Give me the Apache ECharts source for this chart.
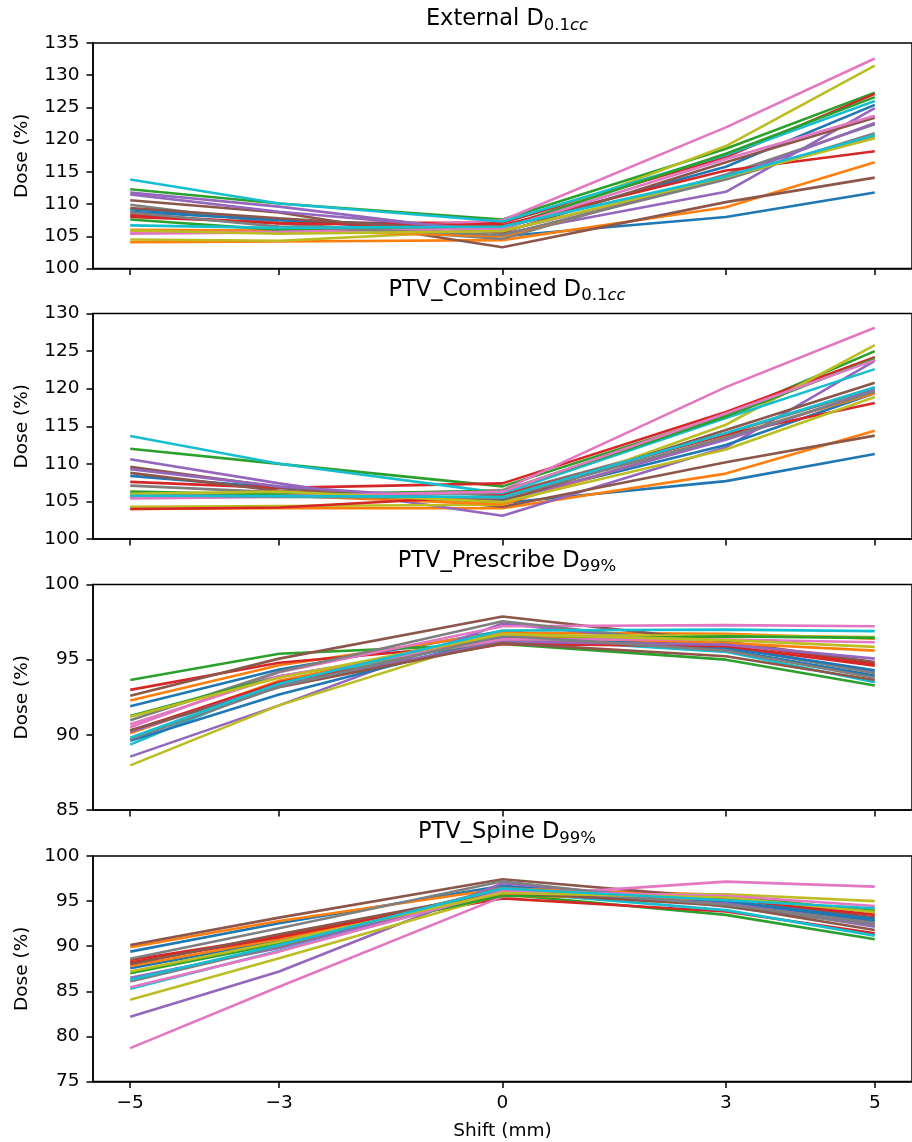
<!DOCTYPE html>
<html>
<head>
<meta charset="utf-8">
<script src="https://cdn.jsdelivr.net/npm/echarts@6/dist/echarts.min.js"></script>
<style>
  html, body { margin: 0; padding: 0; background: #fff; }
  #chart { width: 912px; height: 1142px; }
</style>
</head>
<body>
<div id="chart"></div>
<script>
// x positions (shift in mm) and tick labels
const shifts = [-5, -3, 0, 3, 5];
const xTicks = [-5, -3, 0, 3, 5];

// matplotlib tab10 cycle
const palette = ['#1f77b4', '#ff7f0e', '#2ca02c', '#d62728', '#9467bd',
                 '#8c564b', '#e377c2', '#7f7f7f', '#bcbd22', '#17becf'];

// one row per patient, values at shifts -5,-3,0,3,5
const externalD01cc = [
  [109.2, 107.6, 105.0, 108.0, 111.8],
  [104.1, 104.2, 104.4, 109.5, 116.5],
  [112.3, 110.1, 107.6, 118.6, 127.3],
  [108.0, 107.1, 107.1, 117.3, 127.1],
  [111.8, 109.6, 105.4, 111.9, 124.9],
  [110.6, 108.7, 103.3, 110.3, 114.1],
  [105.4, 105.6, 107.5, 121.9, 132.6],
  [109.9, 107.0, 104.6, 114.6, 122.4],
  [104.5, 104.3, 106.0, 119.0, 131.5],
  [113.8, 110.1, 107.3, 117.6, 126.0],
  [108.8, 107.5, 106.3, 115.8, 125.4],
  [106.0, 105.9, 105.0, 114.2, 120.4],
  [107.6, 106.0, 106.4, 117.8, 126.6],
  [108.3, 107.0, 106.7, 115.2, 118.2],
  [111.5, 108.8, 105.8, 114.0, 122.6],
  [109.4, 107.8, 105.6, 116.5, 123.4],
  [105.6, 105.7, 106.2, 117.0, 123.7],
  [108.7, 106.5, 105.2, 113.8, 121.0],
  [105.9, 105.4, 105.8, 114.2, 120.2],
  [106.7, 106.3, 106.5, 114.3, 120.7]
];

const ptvCombinedD01cc = [
  [108.4, 106.8, 104.8, 107.7, 111.3],
  [104.0, 104.1, 104.1, 108.7, 114.4],
  [112.0, 110.0, 107.0, 116.5, 125.0],
  [107.6, 106.8, 107.4, 116.9, 124.2],
  [110.6, 107.4, 103.1, 112.2, 123.7],
  [109.6, 106.9, 104.3, 110.2, 113.75],
  [105.4, 105.6, 106.5, 120.2, 128.1],
  [107.1, 106.2, 106.0, 114.0, 120.0],
  [104.3, 104.4, 104.55, 115.2, 125.8],
  [113.7, 110.0, 106.1, 116.1, 122.6],
  [106.0, 105.7, 105.2, 112.5, 119.4],
  [106.05, 105.8, 104.6, 113.6, 119.4],
  [106.3, 105.9, 106.4, 116.3, 124.0],
  [104.0, 104.2, 105.8, 113.9, 118.1],
  [109.3, 107.0, 105.0, 113.2, 119.8],
  [108.8, 106.4, 105.0, 114.5, 120.8],
  [105.5, 105.7, 106.3, 116.7, 123.8],
  [105.9, 105.6, 105.5, 113.5, 119.6],
  [106.0, 106.3, 104.9, 111.9, 118.9],
  [105.75, 105.7, 105.6, 114.1, 120.2]
];

const ptvPrescribeD99 = [
  [91.9, 94.34, 96.9, 95.68, 93.94],
  [92.28, 94.63, 96.8, 96.72, 96.4],
  [93.65, 95.39, 96.05, 95.0, 93.28],
  [92.99, 94.79, 96.1, 96.1, 94.72],
  [88.55, 91.96, 97.4, 95.9, 94.16],
  [92.6, 95.07, 97.87, 96.2, 94.85],
  [90.5, 94.16, 97.22, 97.3, 97.22],
  [90.97, 94.2, 97.56, 95.9, 94.1],
  [87.97, 91.96, 96.6, 96.6, 96.5],
  [89.35, 93.45, 96.45, 95.52, 93.5],
  [89.6, 92.68, 96.5, 95.8, 94.3],
  [90.1, 93.6, 96.6, 96.1, 95.6],
  [91.26, 93.9, 96.3, 96.55, 96.45],
  [90.28, 93.5, 96.05, 95.9, 94.6],
  [90.2, 93.3, 96.2, 96.0, 95.07],
  [90.3, 93.16, 96.1, 95.23, 93.65],
  [90.7, 93.9, 96.35, 96.34, 96.16],
  [89.7, 93.2, 96.6, 95.6, 93.8],
  [91.2, 93.8, 96.7, 96.3, 95.85],
  [89.8, 93.4, 96.94, 97.0, 96.9]
];

const ptvSpineD99 = [
  [89.4, 92.55, 96.7, 94.94, 92.8],
  [89.9, 92.8, 96.4, 95.7, 93.73],
  [88.1, 91.2, 95.76, 93.47, 90.78],
  [88.48, 91.06, 95.3, 93.85, 91.44],
  [82.17, 87.2, 96.98, 94.8, 92.17],
  [90.14, 93.17, 97.42, 95.3, 93.17],
  [78.7, 85.5, 95.5, 97.16, 96.6],
  [88.6, 92.0, 97.2, 94.39, 92.36],
  [84.05, 88.67, 95.76, 95.76, 95.0],
  [85.27, 89.5, 96.05, 94.0, 91.17],
  [87.56, 90.6, 96.3, 95.0, 93.0],
  [87.8, 90.8, 95.6, 95.2, 94.0],
  [87.0, 90.3, 95.6, 95.5, 93.9],
  [88.2, 91.0, 95.9, 95.3, 93.47],
  [86.5, 89.8, 96.2, 94.7, 92.5],
  [88.0, 91.33, 96.0, 94.5, 91.8],
  [85.45, 89.4, 96.1, 95.6, 94.46],
  [86.08, 90.0, 96.5, 94.6, 92.6],
  [87.2, 90.5, 95.9, 95.4, 93.8],
  [86.27, 90.14, 96.4, 95.1, 94.2]
];

const panels = [
  { name: 'External D', sub: '0.1', subIt: 'cc', rows: externalD01cc, min: 100, max: 135 },
  { name: 'PTV_Combined D', sub: '0.1', subIt: 'cc', rows: ptvCombinedD01cc, min: 100, max: 130 },
  { name: 'PTV_Prescribe D', sub: '99%', subIt: '', rows: ptvPrescribeD99, min: 85, max: 100 },
  { name: 'PTV_Spine D', sub: '99%', subIt: '', rows: ptvSpineD99, min: 75, max: 100 }
];

const FONT = 'DejaVu Sans';
const gridTops = [43, 313.5, 584.5, 856];
const gridH = 225.5;
const black = '#000';
const LBL = 18.5;

const chart = echarts.init(document.getElementById('chart'), null, { renderer: 'canvas' });

// subscript: main text top-aligned, sub text bottom-aligned in a taller line
const titleRich = {
  m: { fontSize: 22.5, fontFamily: FONT, fontWeight: 'normal', color: black, lineHeight: 22.5, verticalAlign: 'top' },
  s: { fontSize: 16.5, fontFamily: FONT, fontWeight: 'normal', color: black, lineHeight: 26, verticalAlign: 'bottom' },
  i: { fontSize: 16.5, fontFamily: FONT, fontWeight: 'normal', fontStyle: 'italic', color: black, lineHeight: 26, verticalAlign: 'bottom' }
};

const titles = panels.map((p, k) => ({
  text: '{m|' + p.name + '}{s|' + p.sub + '}' + (p.subIt ? '{i|' + p.subIt + '}' : ''),
  left: 507,
  top: gridTops[k] - 35,
  textAlign: 'center',
  padding: 0,
  textStyle: { fontWeight: 'normal', rich: titleRich }
}));

const grids = gridTops.map(t => ({
  left: 93, right: -9.6, top: t, height: gridH,
  show: true, borderColor: black, borderWidth: 1.5, backgroundColor: 'transparent'
}));

const xAxes = panels.map((p, k) => ({
  gridIndex: k,
  type: 'value',
  min: -5.5, max: 5.5,
  name: k === 3 ? 'Shift (mm)' : '',
  nameLocation: 'middle',
  nameGap: 40,
  nameTextStyle: { fontSize: LBL, color: black, fontFamily: FONT },
  axisLine: { show: true, onZero: false, lineStyle: { color: black, width: 1.5 } },
  axisTick: { show: true, length: 6.5, customValues: xTicks, lineStyle: { color: black, width: 1.5 } },
  axisLabel: {
    show: k === 3, customValues: xTicks, fontSize: LBL, color: black, fontFamily: FONT, margin: 12,
    formatter: v => String(v).replace('-', '\u2212')
  },
  splitLine: { show: false }
}));

const yAxes = panels.map((p, k) => ({
  gridIndex: k,
  type: 'value',
  min: p.min, max: p.max, interval: 5,
  name: 'Dose (%)',
  nameLocation: 'middle',
  nameRotate: 90,
  nameGap: 61,
  nameTextStyle: { fontSize: LBL, color: black, fontFamily: FONT },
  axisLine: { show: true, onZero: false, lineStyle: { color: black, width: 1.5 } },
  axisTick: { show: true, length: 6.5, lineStyle: { color: black, width: 1.5 } },
  axisLabel: { fontSize: LBL, color: black, fontFamily: FONT, margin: 13.5 },
  splitLine: { show: false }
}));

const series = [];
panels.forEach((p, k) => {
  p.rows.forEach((row, i) => {
    const c = palette[i % palette.length];
    series.push({
      type: 'line',
      xAxisIndex: k,
      yAxisIndex: k,
      data: shifts.map((x, j) => [x, row[j]]),
      symbol: 'none',
      color: c,
      lineStyle: { width: 2.6, color: c },
      silent: true
    });
  });
});

chart.setOption({
  animation: false,
  textStyle: { fontFamily: FONT },
  title: titles,
  grid: grids,
  xAxis: xAxes,
  yAxis: yAxes,
  series: series
});
</script>
</body>
</html>
